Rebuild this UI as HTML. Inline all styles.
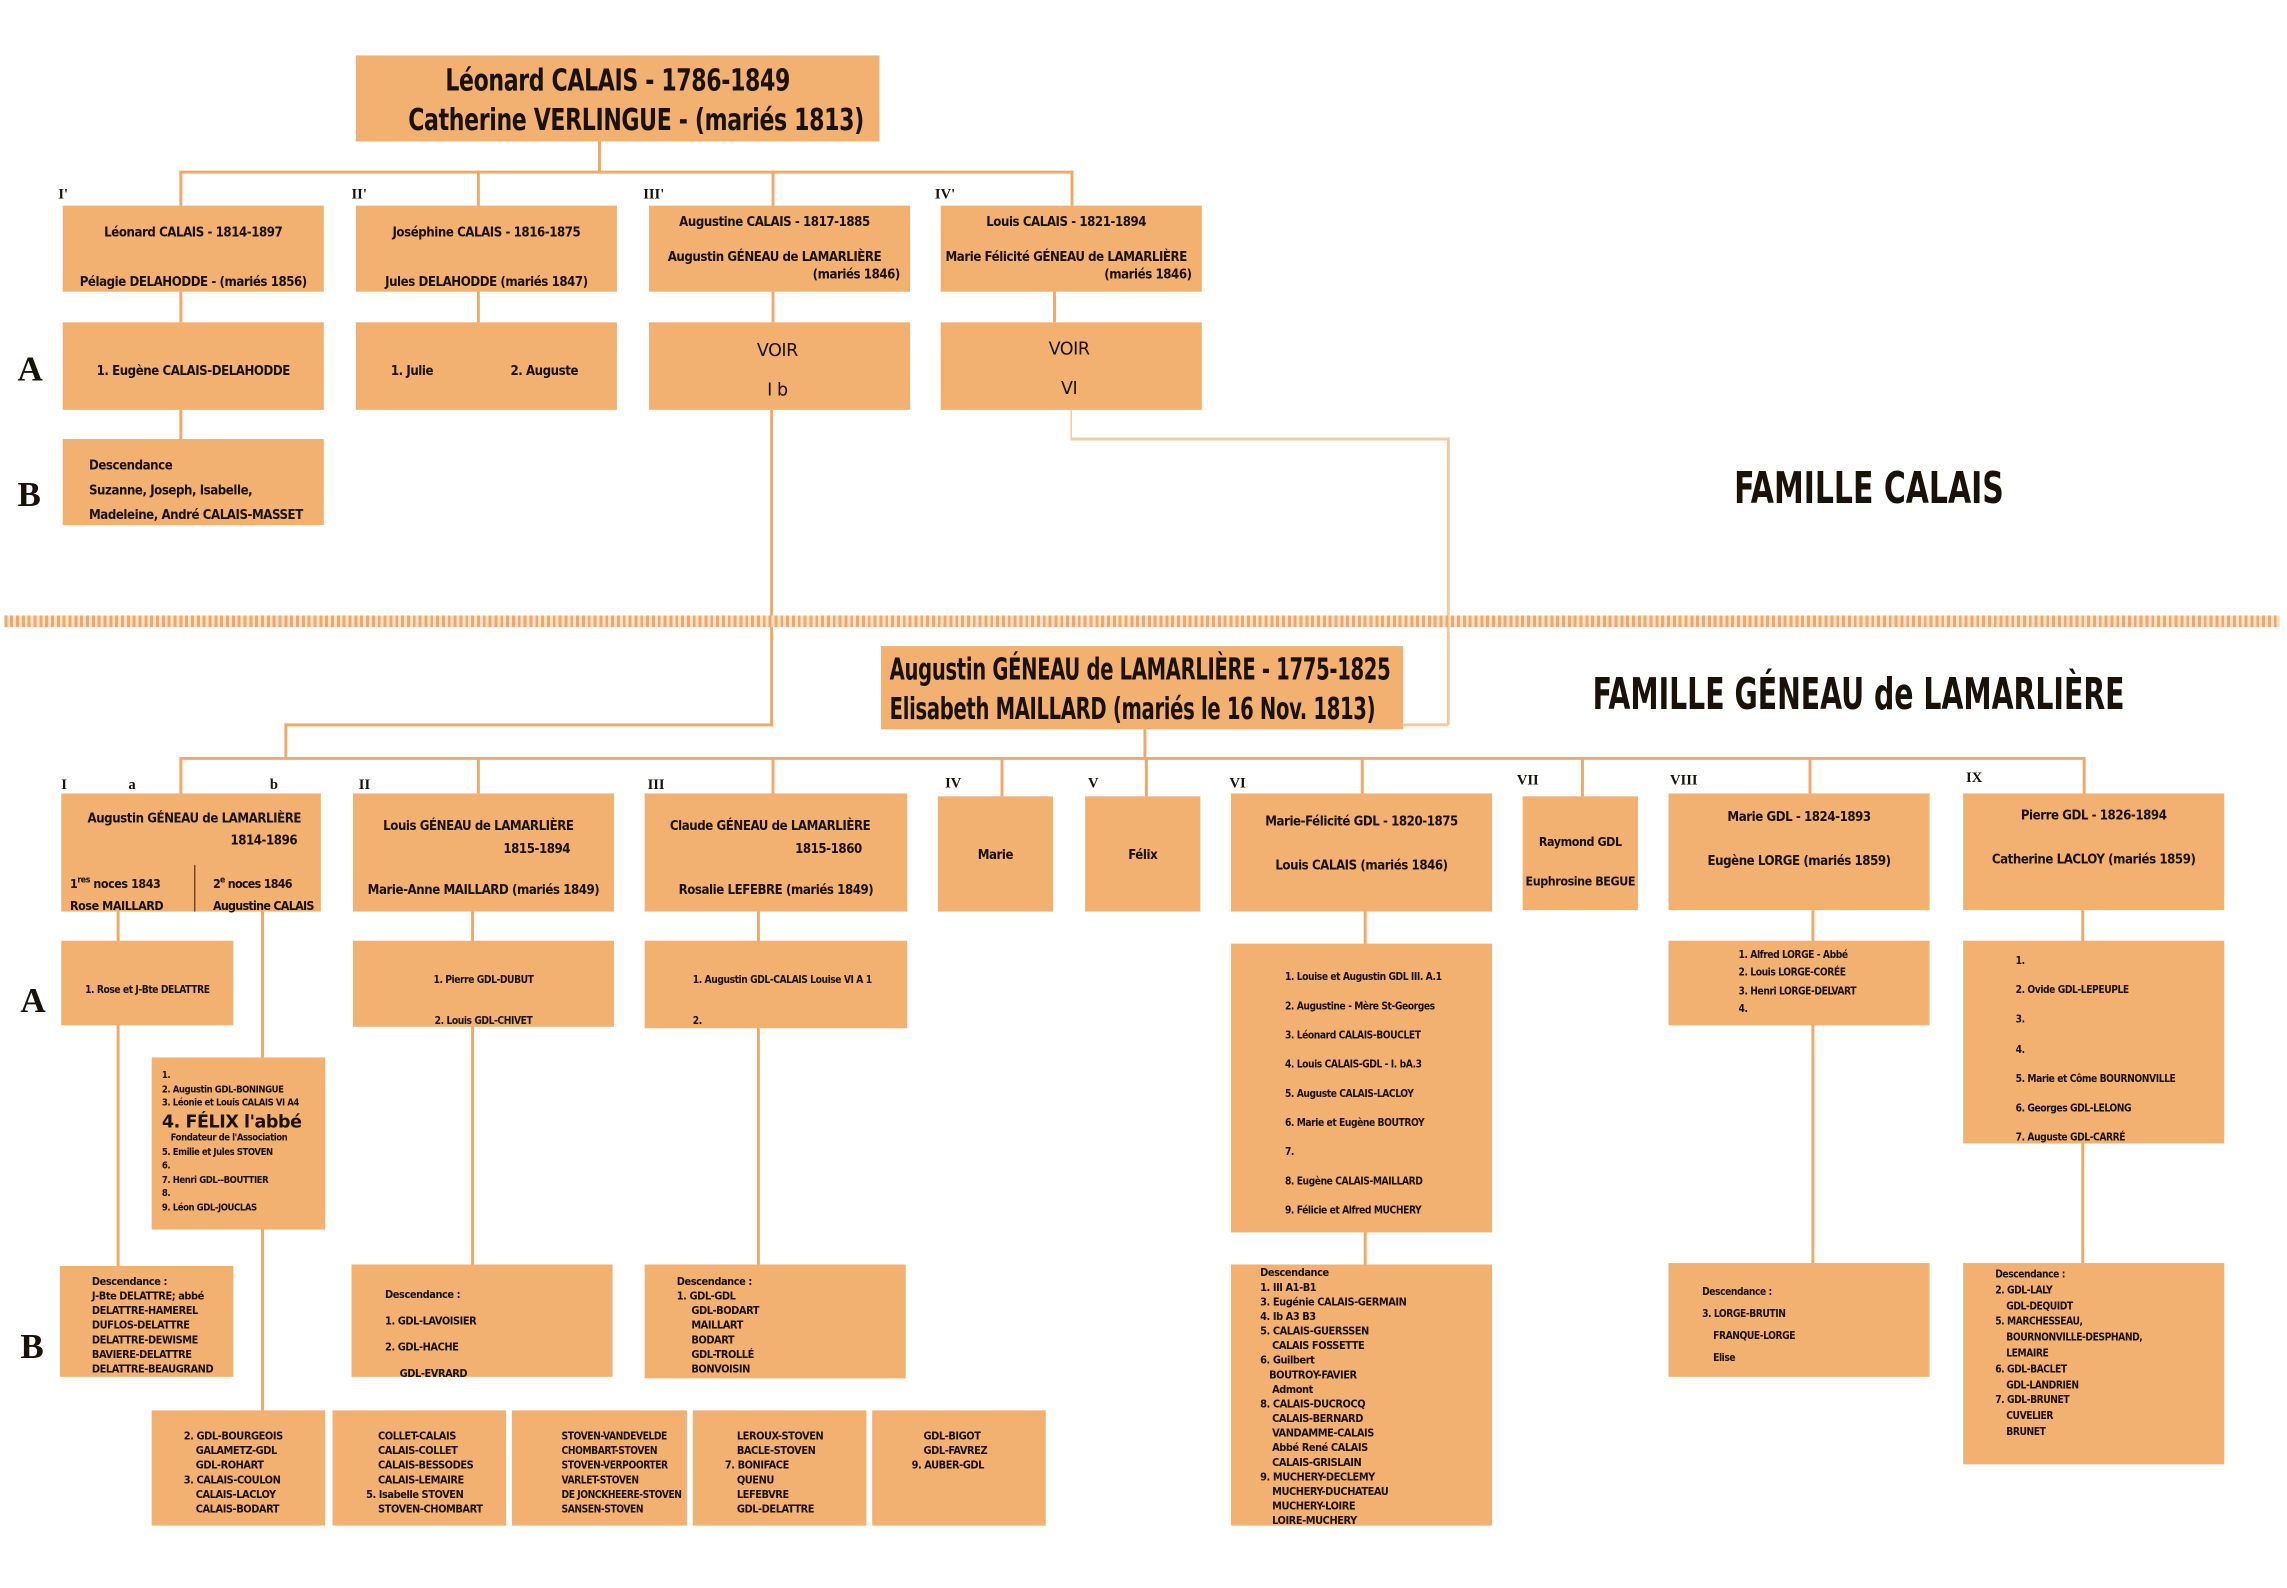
<!DOCTYPE html>
<html><head><meta charset="utf-8">
<style>
html,body{margin:0;padding:0;background:#fff;width:2287px;height:1588px;overflow:hidden}
#w{position:absolute;left:0;top:0;width:1568px;height:1089px;transform:scale(1.4585);transform-origin:0 0;font-family:"Liberation Sans Narrow","DejaVu Sans Condensed","Liberation Sans",sans-serif;font-weight:bold;color:#1a1208}
.b{position:absolute;background:#f2b071;box-sizing:border-box}
.l{position:absolute;background:#f2a867}
.t{position:absolute;white-space:nowrap;font-size:9px;line-height:11px;letter-spacing:-0.3px}
.r{position:absolute;font-family:"Liberation Serif",serif;font-size:10px}
.big{position:absolute;font-family:"Liberation Serif",serif;font-size:24px}
</style></head><body><div id="w">
<!-- top family -->
<div class="b" style="left:244px;top:38px;width:359px;height:59px"></div>
<div class="t" style="left:244px;top:42px;width:359px;text-align:center;font-size:21px;line-height:27px;transform:scaleX(.8);transform-origin:center 0">Léonard CALAIS - 1786-1849<br>Catherine VERLINGUE - (mariés 1813)</div>
<div class="l" style="left:410px;top:97px;width:2px;height:21px"></div>
<div class="l" style="left:123px;top:117px;width:613px;height:2px"></div>
<div class="l" style="left:123px;top:117px;width:2px;height:24px"></div>
<div class="l" style="left:327px;top:117px;width:2px;height:24px"></div>
<div class="l" style="left:529px;top:117px;width:2px;height:24px"></div>
<div class="l" style="left:734px;top:117px;width:2px;height:24px"></div>
<div class="r" style="left:40px;top:128px">I'</div><div class="r" style="left:241px;top:128px">II'</div>
<div class="r" style="left:441px;top:128px">III'</div><div class="r" style="left:641px;top:128px">IV'</div>
<div class="b" style="left:43px;top:141px;width:179px;height:59px"></div>
<div class="t" style="left:43px;top:152px;width:179px;text-align:center;line-height:17px">Léonard CALAIS - 1814-1897<br><br>Pélagie DELAHODDE - (mariés 1856)</div>
<div class="b" style="left:244px;top:141px;width:179px;height:59px"></div>
<div class="t" style="left:244px;top:152px;width:179px;text-align:center;line-height:17px">Joséphine CALAIS - 1816-1875<br><br>Jules DELAHODDE (mariés 1847)</div>
<div class="b" style="left:445px;top:141px;width:179px;height:59px"></div>
<div class="t" style="left:445px;top:147px;width:172px;text-align:center;line-height:12px">Augustine CALAIS - 1817-1885<br><br>Augustin GÉNEAU de LAMARLIÈRE<br><span style="float:right">(mariés 1846)</span></div>
<div class="b" style="left:645px;top:141px;width:179px;height:59px"></div>
<div class="t" style="left:645px;top:147px;width:172px;text-align:center;line-height:12px">Louis CALAIS - 1821-1894<br><br>Marie Félicité GÉNEAU de LAMARLIÈRE<br><span style="float:right">(mariés 1846)</span></div>
<div class="l" style="left:123px;top:200px;width:2px;height:21px"></div>
<div class="l" style="left:327px;top:200px;width:2px;height:21px"></div>
<div class="l" style="left:529px;top:200px;width:2px;height:21px"></div>
<div class="l" style="left:722px;top:200px;width:2px;height:21px"></div>
<div class="b" style="left:43px;top:221px;width:179px;height:60px"></div>
<div class="t" style="left:43px;top:250px;width:179px;text-align:center">1. Eugène CALAIS-DELAHODDE</div>
<div class="b" style="left:244px;top:221px;width:179px;height:60px"></div>
<div class="t" style="left:268px;top:250px">1. Julie</div><div class="t" style="left:350px;top:250px">2. Auguste</div>
<div class="b" style="left:445px;top:221px;width:179px;height:60px"></div>
<div class="t" style="left:445px;top:227px;width:176px;text-align:center;font-family:'DejaVu Sans',sans-serif;font-weight:normal;font-size:12px;line-height:27px">VOIR<br>I b</div>
<div class="b" style="left:645px;top:221px;width:179px;height:60px"></div>
<div class="t" style="left:645px;top:226px;width:176px;text-align:center;font-family:'DejaVu Sans',sans-serif;font-weight:normal;font-size:12px;line-height:27px">VOIR<br>VI</div>
<div class="l" style="left:123px;top:281px;width:2px;height:20px"></div>
<div class="b" style="left:43px;top:301px;width:179px;height:59px"></div>
<div class="t" style="left:61px;top:312px;line-height:17px">Descendance<br>Suzanne, Joseph, Isabelle,<br>Madeleine, André CALAIS-MASSET</div>
<div class="big" style="left:12px;top:241px">A</div>
<div class="big" style="left:12px;top:327px">B</div>
<div class="t" style="left:1189px;top:318px;font-size:30px;line-height:36px;transform:scaleX(.76);transform-origin:0 0;letter-spacing:0">FAMILLE CALAIS</div>
<!-- connectors across -->
<div class="l" style="left:528px;top:281px;width:2px;height:216px"></div>
<div class="l" style="left:195px;top:496px;width:335px;height:2px"></div>
<div class="l" style="left:195px;top:496px;width:2px;height:24px"></div>
<div class="l" style="left:734px;top:281px;width:1px;height:20px;background:#f5c8a0"></div>
<div class="l" style="left:734px;top:300px;width:259px;height:2px;background:#f5c8a0"></div>
<div class="l" style="left:992px;top:300px;width:2px;height:197px;background:#f5c8a0"></div>
<div class="l" style="left:962px;top:496px;width:31px;height:2px;background:#f5c8a0"></div>
<div style="position:absolute;left:3px;top:422px;width:1560px;height:8px;background:repeating-linear-gradient(90deg,#f0a868 0 2px,#fbe2cc 2px 4px)"></div>
<!-- GDL family -->
<div class="b" style="left:604px;top:443px;width:358px;height:57px"></div>
<div class="t" style="left:610px;top:446px;font-size:21px;line-height:27px;transform:scaleX(.71);transform-origin:0 0">Augustin GÉNEAU de LAMARLIÈRE - 1775-1825<br>Elisabeth MAILLARD (mariés le 16 Nov. 1813)</div>
<div class="t" style="left:1092px;top:458px;font-size:30px;line-height:38px;transform:scaleX(.72);transform-origin:0 0;letter-spacing:0">FAMILLE GÉNEAU de LAMARLIÈRE</div>
<div class="l" style="left:784px;top:500px;width:2px;height:20px"></div>
<div class="l" style="left:123px;top:519px;width:1306px;height:2px"></div>
<div class="l" style="left:123px;top:519px;width:2px;height:25px"></div>
<div class="l" style="left:327px;top:519px;width:2px;height:25px"></div>
<div class="l" style="left:529px;top:519px;width:2px;height:25px"></div>
<div class="l" style="left:686px;top:519px;width:2px;height:27px"></div>
<div class="l" style="left:785px;top:519px;width:2px;height:27px"></div>
<div class="l" style="left:933px;top:519px;width:2px;height:25px"></div>
<div class="l" style="left:1084px;top:519px;width:2px;height:27px"></div>
<div class="l" style="left:1240px;top:519px;width:2px;height:25px"></div>
<div class="l" style="left:1428px;top:519px;width:2px;height:25px"></div>
<div class="r" style="left:42px;top:533px">I</div><div class="r" style="left:88px;top:533px">a</div><div class="r" style="left:185px;top:533px">b</div>
<div class="r" style="left:246px;top:533px">II</div><div class="r" style="left:444px;top:533px">III</div><div class="r" style="left:648px;top:532px">IV</div>
<div class="r" style="left:746px;top:532px">V</div><div class="r" style="left:843px;top:532px">VI</div><div class="r" style="left:1040px;top:530px">VII</div>
<div class="r" style="left:1145px;top:530px">VIII</div><div class="r" style="left:1348px;top:528px">IX</div>

<div class="b" style="left:42px;top:544px;width:178px;height:81px"></div>
<div class="t" style="left:60px;top:555px;line-height:15px">Augustin GÉNEAU de LAMARLIÈRE<br><span style="margin-left:98px">1814-1896</span></div>
<div class="t" style="left:48px;top:596px;line-height:15px;font-size:8.5px">1<sup style="font-size:6px">res</sup> noces 1843<br>Rose MAILLARD</div>
<div class="t" style="left:146px;top:596px;line-height:15px;font-size:8.5px;letter-spacing:-0.5px">2<sup style="font-size:6px">e</sup> noces 1846<br>Augustine CALAIS</div>
<div class="l" style="left:133px;top:593px;width:1px;height:32px;background:#6a4a30"></div>
<div class="b" style="left:242px;top:544px;width:179px;height:81px"></div>
<div class="t" style="left:242px;top:559px;width:172px;text-align:center;line-height:16px">Louis GÉNEAU de LAMARLIÈRE<br><span style="margin-left:80px">1815-1894</span></div>
<div class="t" style="left:242px;top:606px;width:179px;text-align:center">Marie-Anne MAILLARD (mariés 1849)</div>
<div class="b" style="left:442px;top:544px;width:180px;height:81px"></div>
<div class="t" style="left:442px;top:559px;width:172px;text-align:center;line-height:16px">Claude GÉNEAU de LAMARLIÈRE<br><span style="margin-left:80px">1815-1860</span></div>
<div class="t" style="left:442px;top:606px;width:180px;text-align:center">Rosalie LEFEBRE (mariés 1849)</div>
<div class="b" style="left:643px;top:546px;width:79px;height:79px"></div>
<div class="t" style="left:643px;top:582px;width:79px;text-align:center">Marie</div>
<div class="b" style="left:744px;top:546px;width:79px;height:79px"></div>
<div class="t" style="left:744px;top:582px;width:79px;text-align:center">Félix</div>
<div class="b" style="left:844px;top:544px;width:179px;height:81px"></div>
<div class="t" style="left:844px;top:557px;width:179px;text-align:center;line-height:15px">Marie-Félicité GDL - 1820-1875<br><br>Louis CALAIS (mariés 1846)</div>
<div class="b" style="left:1044px;top:546px;width:79px;height:78px"></div>
<div class="t" style="left:1044px;top:565px;width:79px;text-align:center;line-height:27px;font-size:8.5px">Raymond GDL<br>Euphrosine BEGUE</div>
<div class="b" style="left:1144px;top:544px;width:179px;height:80px"></div>
<div class="t" style="left:1144px;top:554px;width:179px;text-align:center;line-height:15px">Marie GDL - 1824-1893<br><br>Eugène LORGE (mariés 1859)</div>
<div class="b" style="left:1346px;top:544px;width:179px;height:80px"></div>
<div class="t" style="left:1346px;top:553px;width:179px;text-align:center;line-height:15px">Pierre GDL - 1826-1894<br><br>Catherine LACLOY (mariés 1859)</div>

<div class="big" style="left:14px;top:674px">A</div>
<div class="big" style="left:14px;top:911px">B</div>
<!-- A row -->
<div class="l" style="left:80px;top:625px;width:2px;height:243px"></div>
<div class="l" style="left:179px;top:625px;width:2px;height:342px"></div>
<div class="l" style="left:323px;top:625px;width:2px;height:242px"></div>
<div class="l" style="left:519px;top:625px;width:2px;height:242px"></div>
<div class="l" style="left:935px;top:625px;width:2px;height:242px"></div>
<div class="l" style="left:1242px;top:624px;width:2px;height:242px"></div>
<div class="l" style="left:1427px;top:624px;width:2px;height:242px"></div>
<div class="b" style="left:42px;top:645px;width:118px;height:58px"></div>
<div class="t" style="left:42px;top:674px;width:118px;text-align:center;font-size:7px">1. Rose et J-Bte DELATTRE</div>
<div class="b" style="left:242px;top:645px;width:179px;height:59px"></div>
<div class="t" style="left:242px;top:658px;width:179px;text-align:center;font-size:7px;line-height:28px">1. Pierre GDL-DUBUT<br>2. Louis GDL-CHIVET</div>
<div class="b" style="left:442px;top:645px;width:180px;height:60px"></div>
<div class="t" style="left:475px;top:658px;font-size:7px;line-height:28px">1. Augustin GDL-CALAIS Louise VI A 1<br>2.</div>
<div class="b" style="left:104px;top:725px;width:119px;height:118px"></div>
<div class="t" style="left:111px;top:733px;font-size:6.5px;line-height:9.5px">1.<br>2. Augustin GDL-BONINGUE<br>3. Léonie et Louis CALAIS VI A4<br><span style="font-family:'DejaVu Sans',sans-serif;font-size:12px;line-height:14px">4. FÉLIX l'abbé</span><br><span style="margin-left:6px">Fondateur de l'Association</span><br>5. Emilie et Jules STOVEN<br>6.<br>7. Henri GDL--BOUTTIER<br>8.<br>9. Léon GDL-JOUCLAS</div>
<div class="b" style="left:844px;top:647px;width:179px;height:198px"></div>
<div class="t" style="left:881px;top:660px;font-size:7px;line-height:20px">1. Louise et Augustin GDL III. A.1<br>2. Augustine - Mère St-Georges<br>3. Léonard CALAIS-BOUCLET<br>4. Louis CALAIS-GDL - I. bA.3<br>5. Auguste CALAIS-LACLOY<br>6. Marie et Eugène BOUTROY<br>7.<br>8. Eugène CALAIS-MAILLARD<br>9. Félicie et Alfred MUCHERY</div>
<div class="b" style="left:1144px;top:645px;width:179px;height:58px"></div>
<div class="t" style="left:1192px;top:649px;font-size:7px;line-height:12.3px">1. Alfred LORGE - Abbé<br>2. Louis LORGE-CORÉE<br>3. Henri LORGE-DELVART<br>4.</div>
<div class="b" style="left:1346px;top:645px;width:179px;height:139px"></div>
<div class="t" style="left:1382px;top:649px;font-size:7px;line-height:20.2px">1.<br>2. Ovide GDL-LEPEUPLE<br>3.<br>4.<br>5. Marie et Côme BOURNONVILLE<br>6. Georges GDL-LELONG<br>7. Auguste GDL-CARRÉ</div>
<!-- B row -->
<div class="b" style="left:41px;top:868px;width:119px;height:76px"></div>
<div class="t" style="left:63px;top:874px;font-size:7.5px;line-height:10px">Descendance :<br>J-Bte DELATTRE; abbé<br>DELATTRE-HAMEREL<br>DUFLOS-DELATTRE<br>DELATTRE-DEWISME<br>BAVIERE-DELATTRE<br>DELATTRE-BEAUGRAND</div>
<div class="b" style="left:241px;top:867px;width:179px;height:77px"></div>
<div class="t" style="left:264px;top:879px;font-size:7.5px;line-height:18px">Descendance :<br>1. GDL-LAVOISIER<br>2. GDL-HACHE<br><span style="margin-left:10px">GDL-EVRARD</span></div>
<div class="b" style="left:442px;top:867px;width:179px;height:78px"></div>
<div class="t" style="left:464px;top:874px;font-size:7.5px;line-height:10px">Descendance :<br>1. GDL-GDL<br><span style="margin-left:10px">GDL-BODART</span><br><span style="margin-left:10px">MAILLART</span><br><span style="margin-left:10px">BODART</span><br><span style="margin-left:10px">GDL-TROLLÉ</span><br><span style="margin-left:10px">BONVOISIN</span></div>
<div class="b" style="left:844px;top:867px;width:179px;height:179px"></div>
<div class="t" style="left:864px;top:868px;font-size:7.5px;line-height:10px">Descendance<br>1. III A1-B1<br>3. Eugénie CALAIS-GERMAIN<br>4. Ib A3 B3<br>5. CALAIS-GUERSSEN<br>&nbsp;&nbsp;&nbsp;&nbsp;CALAIS FOSSETTE<br>6. Guilbert<br>&nbsp;&nbsp;&nbsp;BOUTROY-FAVIER<br>&nbsp;&nbsp;&nbsp;&nbsp;Admont<br>8. CALAIS-DUCROCQ<br>&nbsp;&nbsp;&nbsp;&nbsp;CALAIS-BERNARD<br>&nbsp;&nbsp;&nbsp;&nbsp;VANDAMME-CALAIS<br>&nbsp;&nbsp;&nbsp;&nbsp;Abbé René CALAIS<br>&nbsp;&nbsp;&nbsp;&nbsp;CALAIS-GRISLAIN<br>9. MUCHERY-DECLEMY<br>&nbsp;&nbsp;&nbsp;&nbsp;MUCHERY-DUCHATEAU<br>&nbsp;&nbsp;&nbsp;&nbsp;MUCHERY-LOIRE<br>&nbsp;&nbsp;&nbsp;&nbsp;LOIRE-MUCHERY</div>
<div class="b" style="left:1144px;top:866px;width:179px;height:78px"></div>
<div class="t" style="left:1167px;top:879px;font-size:7px;line-height:15px">Descendance :<br>3. LORGE-BRUTIN<br>&nbsp;&nbsp;&nbsp;&nbsp;FRANQUE-LORGE<br>&nbsp;&nbsp;&nbsp;&nbsp;Elise</div>
<div class="b" style="left:1346px;top:866px;width:179px;height:138px"></div>
<div class="t" style="left:1368px;top:869px;font-size:7px;line-height:10.8px">Descendance :<br>2. GDL-LALY<br>&nbsp;&nbsp;&nbsp;&nbsp;GDL-DEQUIDT<br>5. MARCHESSEAU,<br>&nbsp;&nbsp;&nbsp;&nbsp;BOURNONVILLE-DESPHAND,<br>&nbsp;&nbsp;&nbsp;&nbsp;LEMAIRE<br>6. GDL-BACLET<br>&nbsp;&nbsp;&nbsp;&nbsp;GDL-LANDRIEN<br>7. GDL-BRUNET<br>&nbsp;&nbsp;&nbsp;&nbsp;CUVELIER<br>&nbsp;&nbsp;&nbsp;&nbsp;BRUNET</div>
<!-- bottom row -->
<div class="b" style="left:104px;top:967px;width:119px;height:79px"></div>
<div class="t" style="left:126px;top:980px;font-size:7.5px;line-height:10px">2. GDL-BOURGEOIS<br>&nbsp;&nbsp;&nbsp;&nbsp;GALAMETZ-GDL<br>&nbsp;&nbsp;&nbsp;&nbsp;GDL-ROHART<br>3. CALAIS-COULON<br>&nbsp;&nbsp;&nbsp;&nbsp;CALAIS-LACLOY<br>&nbsp;&nbsp;&nbsp;&nbsp;CALAIS-BODART</div>
<div class="b" style="left:228px;top:967px;width:119px;height:79px"></div>
<div class="t" style="left:251px;top:980px;font-size:7.5px;line-height:10px">&nbsp;&nbsp;&nbsp;&nbsp;COLLET-CALAIS<br>&nbsp;&nbsp;&nbsp;&nbsp;CALAIS-COLLET<br>&nbsp;&nbsp;&nbsp;&nbsp;CALAIS-BESSODES<br>&nbsp;&nbsp;&nbsp;&nbsp;CALAIS-LEMAIRE<br>5. Isabelle STOVEN<br>&nbsp;&nbsp;&nbsp;&nbsp;STOVEN-CHOMBART</div>
<div class="b" style="left:351px;top:967px;width:120px;height:79px"></div>
<div class="t" style="left:385px;top:980px;font-size:7px;line-height:10px">STOVEN-VANDEVELDE<br>CHOMBART-STOVEN<br>STOVEN-VERPOORTER<br>VARLET-STOVEN<br>DE JONCKHEERE-STOVEN<br>SANSEN-STOVEN</div>
<div class="b" style="left:475px;top:967px;width:119px;height:79px"></div>
<div class="t" style="left:497px;top:980px;font-size:7.5px;line-height:10px">&nbsp;&nbsp;&nbsp;&nbsp;LEROUX-STOVEN<br>&nbsp;&nbsp;&nbsp;&nbsp;BACLE-STOVEN<br>7. BONIFACE<br>&nbsp;&nbsp;&nbsp;&nbsp;QUENU<br>&nbsp;&nbsp;&nbsp;&nbsp;LEFEBVRE<br>&nbsp;&nbsp;&nbsp;&nbsp;GDL-DELATTRE</div>
<div class="b" style="left:598px;top:967px;width:119px;height:79px"></div>
<div class="t" style="left:625px;top:980px;font-size:7.5px;line-height:10px">&nbsp;&nbsp;&nbsp;&nbsp;GDL-BIGOT<br>&nbsp;&nbsp;&nbsp;&nbsp;GDL-FAVREZ<br>9. AUBER-GDL</div>
</div></body></html>
